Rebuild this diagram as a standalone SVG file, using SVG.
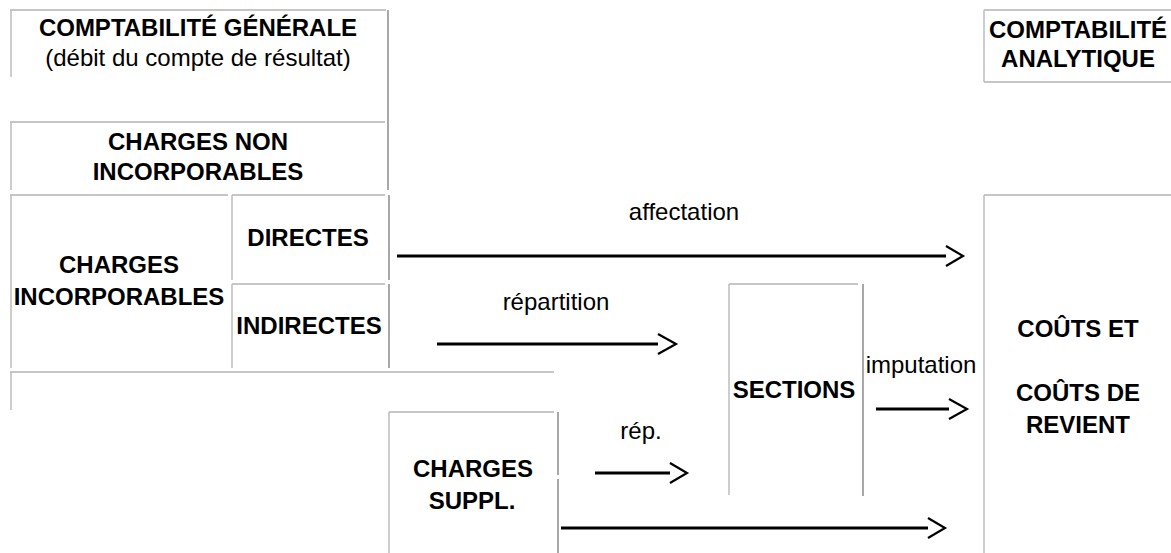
<svg xmlns="http://www.w3.org/2000/svg" width="1171" height="553" viewBox="0 0 1171 553">
<style>
.b{font-family:"Liberation Sans",Arial,sans-serif;font-size:24px;font-weight:bold;fill:#000;text-anchor:middle}
.r{font-family:"Liberation Sans",Arial,sans-serif;font-size:24px;fill:#000;text-anchor:middle}
.t{stroke:#c6c6c6;stroke-width:2;fill:none}
.l{stroke:#bdbdbd;stroke-width:1.5;fill:none}
.rt{stroke:#a8a8a8;stroke-width:2;fill:none}
.ln{stroke:#000;stroke-width:3;fill:none}
.ch{stroke:#000;stroke-width:2.2;fill:none;stroke-linejoin:miter}
</style>
<rect width="1171" height="553" fill="#fff"/>
<g id="generale">
<path class="t" d="M10 10H386"/><path class="l" d="M11 10V77"/><path class="rt" d="M388 10V190"/>
<text class="b" x="198" y="36">COMPTABILITÉ GÉNÉRALE</text>
<text class="r" x="198" y="66">(débit du compte de résultat)</text>
</g>
<g id="non-incorporables">
<path class="t" d="M10 122H385"/><path class="l" d="M11 122V190"/>
<text class="b" x="198" y="150">CHARGES NON</text>
<text class="b" x="198" y="180">INCORPORABLES</text>
</g>
<g id="incorporables">
<path class="t" d="M10 195H228"/><path class="l" d="M11 195V368"/>
<text class="b" x="119" y="273">CHARGES</text>
<text class="b" x="119" y="305">INCORPORABLES</text>
</g>
<g id="directes">
<path class="t" d="M232 195H385"/><path class="l" d="M232 195V280"/><path class="rt" d="M389 195V280"/>
<text class="b" x="308" y="246">DIRECTES</text>
</g>
<g id="indirectes">
<path class="t" d="M232 284H385"/><path class="l" d="M232 284V368"/><path class="rt" d="M389 284V368"/>
<text class="b" x="309" y="334">INDIRECTES</text>
</g>
<g id="bottom-row">
<path class="t" d="M10 372H554"/><path class="l" d="M11 372V410"/>
</g>
<g id="charges-suppl">
<path class="t" d="M389 412H554"/><path class="l" d="M389 412V553"/><path class="rt" d="M558 412V475M558 479V553"/>
<text class="b" x="473" y="477">CHARGES</text>
<text class="b" x="472" y="509">SUPPL.</text>
</g>
<g id="sections">
<path class="t" d="M729 284H858"/><path class="l" d="M729 284V495"/><path class="rt" d="M863 284V496"/>
<text class="b" x="794" y="398">SECTIONS</text>
</g>
<g id="analytique">
<path class="t" d="M984 10H1171M984 82H1171"/><path class="l" d="M984 10V82"/>
<text class="b" x="1078" y="38">COMPTABILITÉ</text>
<text class="b" x="1078" y="67">ANALYTIQUE</text>
</g>
<g id="couts">
<path class="t" d="M984 195H1171"/><path class="l" d="M984 195V553"/>
<text class="b" x="1078" y="337">COÛTS ET</text>
<text class="b" x="1078" y="401">COÛTS DE</text>
<text class="b" x="1078" y="433">REVIENT</text>
</g>
<g id="connectors">
<path class="ln" d="M397 256H946"/><path class="ch" d="M946 246L963 256L946 266"/>
<text class="r" x="684" y="220">affectation</text>
<path class="ln" d="M437 344H658"/><path class="ch" d="M658 334L676 344L658 354"/>
<text class="r" x="556" y="310">répartition</text>
<path class="ln" d="M876 409H949"/><path class="ch" d="M949 399L967 409L949 419"/>
<text class="r" x="921" y="373">imputation</text>
<path class="ln" d="M595 473H670"/><path class="ch" d="M670 463L687 473L670 483"/>
<text class="r" x="641" y="439">rép.</text>
<path class="ln" d="M561 528H928"/><path class="ch" d="M928 518L945 528L928 538"/>
</g>
</svg>
